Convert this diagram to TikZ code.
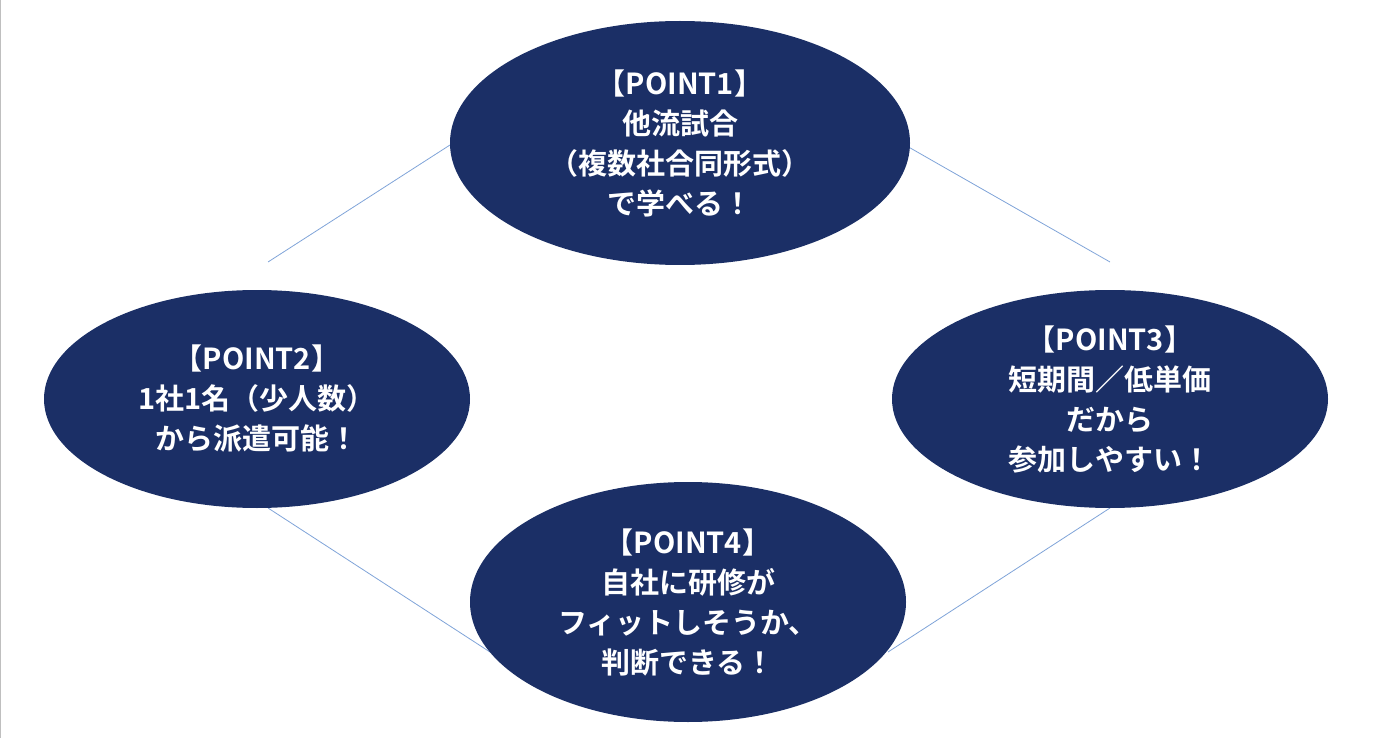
\documentclass[tikz,border=0pt]{standalone}
\usepackage{fontspec}
\setmainfont{Noto Sans CJK JP}[BoldFont={Noto Sans CJK JP Bold}]
\usetikzlibrary{shapes.geometric}
\definecolor{navy}{HTML}{1B2F66}
\definecolor{lnk}{HTML}{7FA3D8}
\tikzset{pt/.style={ellipse,fill=navy,draw=none,inner sep=0pt,text=white,font=\bfseries\fontsize{29}{40}\selectfont,align=center},
lk/.style={draw=lnk,line width=0.8pt}}
\begin{document}
\begin{tikzpicture}[x=1pt,y=-1pt]
\useasboundingbox (0,0) rectangle (1374,738);
\draw[black!25] (0.5,0) -- (0.5,738);
\coordinate (a1) at (268,262);
\coordinate (a2) at (1110,262);
\coordinate (b1) at (268,508);
\coordinate (b2) at (1110,508);
\draw[lk] (450,145) -- (a1);
\draw[lk] (905,145) -- (a2);
\draw[lk] (b1) -- (490,652);
\draw[lk] (b2) -- (888,652);
\node[pt,minimum width=460,minimum height=244] (e1) at (680,143) {【POINT1】\\他流試合\\（複数社合同形式）\\で学べる！};
\node[pt,minimum width=426,minimum height=218] (e2) at (257,399) {【POINT2】\\1社1名（少人数）\\から派遣可能！};
\node[pt,minimum width=436,minimum height=218] (e3) at (1110,399) {【POINT3】\\短期間／低単価\\だから\\参加しやすい！};
\node[pt,minimum width=436,minimum height=240] (e4) at (688,602) {【POINT4】\\自社に研修が\\フィットしそうか、\\判断できる！};
\end{tikzpicture}
\end{document}
